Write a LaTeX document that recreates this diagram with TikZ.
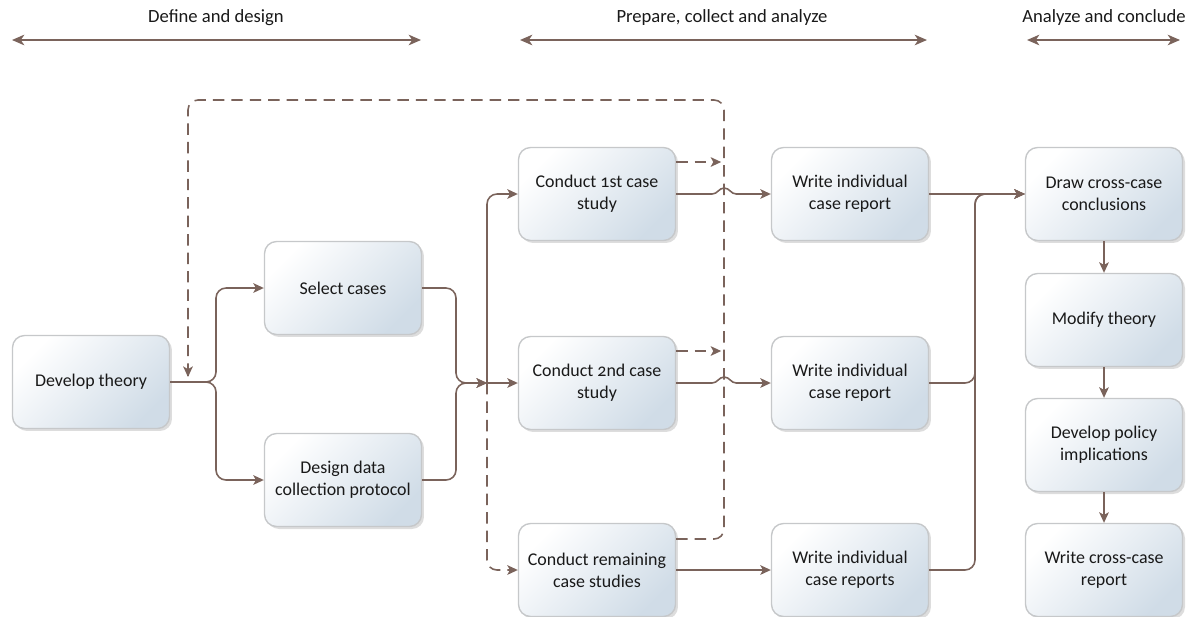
\documentclass[tikz,border=0pt]{standalone}
\usepackage{fontspec}
\setmainfont{Carlito}[Numbers=OldStyle]
\usetikzlibrary{arrows.meta,shadows,calc}
\definecolor{flowc}{RGB}{122,99,91}
\definecolor{boxedge}{RGB}{198,200,202}
\definecolor{boxlo}{RGB}{208,220,231}
\definecolor{txt}{RGB}{25,25,25}

\begin{document}
\begin{tikzpicture}[x=0.02cm,y=-0.02cm,
  stage/.style={draw=boxedge, line width=0.8pt, rounded corners=0.24cm,
    minimum width=3.14cm, minimum height=1.86cm, align=center,
    font=\fontsize{10.2}{12.6}\selectfont, text=txt,
    top color=white, bottom color=boxlo, shading angle=45,
    drop shadow={shadow xshift=0.05cm, shadow yshift=-0.05cm, opacity=0.22, fill=black!60}},
  flow/.style={draw=flowc, line width=0.9pt, rounded corners=0.2cm,
    -{Stealth[length=6pt,width=5.5pt,inset=1.5pt]}},
  hop/.style={draw=flowc, line width=0.9pt,
    -{Stealth[length=6pt,width=5.5pt,inset=1.5pt]}},
  link/.style={draw=flowc, line width=0.9pt, rounded corners=0.2cm},
  dashflow/.style={flow, dash pattern=on 6.5pt off 4pt},
  dashlink/.style={link, dash pattern=on 6.5pt off 4pt},
  span/.style={draw=flowc, line width=1.1pt,
    {Stealth[length=7pt,width=6pt,inset=2pt]}-{Stealth[length=7pt,width=6pt,inset=2pt]}},
  phase/.style={font=\fontsize{10.6}{12.6}\selectfont, text=txt}
]
\useasboundingbox (0,0) rectangle (1193,616);

% phase headers
\node[phase] (h1) at (216,18) {Define and design};
\node[phase] (h2) at (722,18) {Prepare, collect and analyze};
\node[phase] (h3) at (1104,18) {Analyze and conclude};
\coordinate (h1a) at (12,40);  \coordinate (h1b) at (421,40);
\coordinate (h2a) at (520,40); \coordinate (h2b) at (927,40);
\coordinate (h3a) at (1027,40); \coordinate (h3b) at (1180,40);
\draw[span] (h1a) -- (h1b);
\draw[span] (h2a) -- (h2b);
\draw[span] (h3a) -- (h3b);

% stages
\node[stage] (dev)  at (91,382)  {Develop theory};
\node[stage] (sel)  at (343,288) {Select cases};
\node[stage] (des)  at (343,480) {Design data\\collection protocol};
\node[stage] (con1) at (597,194) {Conduct 1st case\\study};
\node[stage] (con2) at (597,383) {Conduct 2nd case\\study};
\node[stage] (rem)  at (597,570) {Conduct remaining\\case studies};
\node[stage] (wr1)  at (850,194) {Write individual\\case report};
\node[stage] (wr2)  at (850,383) {Write individual\\case report};
\node[stage] (wr3)  at (850,570) {Write individual\\case reports};
\node[stage] (drw)  at (1104,194) {Draw cross-case\\conclusions};
\node[stage] (mod)  at (1104,320) {Modify theory};
\node[stage] (pol)  at (1104,445) {Develop policy\\implications};
\node[stage] (rep)  at (1104,570) {Write cross-case\\report};

% junction points
\coordinate (jL) at (216,382);
\coordinate (jS) at (456,288);
\coordinate (jD) at (456,480);
\coordinate (jM) at (487,383);
\coordinate (jR) at (975,383);
\coordinate (jR3) at (975,570);
\coordinate (loopR) at (724,539);
\coordinate (loopTR) at (724,100);
\coordinate (loopTL) at (188,100);
\coordinate (fb) at (188,377);

% design branch
\draw[flow] (dev.east) -- (jL) |- (sel.west);
\draw[flow] (dev.east) -- (jL) |- (des.west);
\draw[flow] (sel.east) -- (jS) |- (jM);
\draw[flow] (des.east) -- (jD) |- (jM);

% case studies
\draw[flow] (jM) -- (con2.west);
\draw[flow] (jM) |- (con1.west);
\draw[dashflow] (jM) |- (rem.west);

% feedback loop
\draw[dashlink] ([yshift=0.62cm]rem.east) -- (loopR) -- (loopTR) -- (loopTL) -- (fb);
\draw[dashflow] (fb) ++(0,-1) -- (fb);
\draw[dashflow] ([yshift=0.64cm]con1.east) -- ++(45,0);
\draw[dashflow] ([yshift=0.64cm]con2.east) -- ++(45,0);

% reports, hopping over the loop line
\draw[hop] (con1.east) -- ++(36,0) to[out=0,in=180] ++(12,-6)
   to[out=0,in=180] ++(12,6) -- (wr1.west);
\draw[hop] (con2.east) -- ++(36,0) to[out=0,in=180] ++(12,-6)
   to[out=0,in=180] ++(12,6) -- (wr2.west);
\draw[flow] (rem.east) -- (wr3.west);

% conclusions
\draw[flow] (wr1.east) -- (drw.west);
\draw[flow] (wr2.east) -- (jR) |- (drw.west);
\draw[flow] (wr3.east) -- (jR3) |- (drw.west);
\draw[flow] (drw.south) -- (mod.north);
\draw[flow] (mod.south) -- (pol.north);
\draw[flow] (pol.south) -- (rep.north);
\end{tikzpicture}
\end{document}
